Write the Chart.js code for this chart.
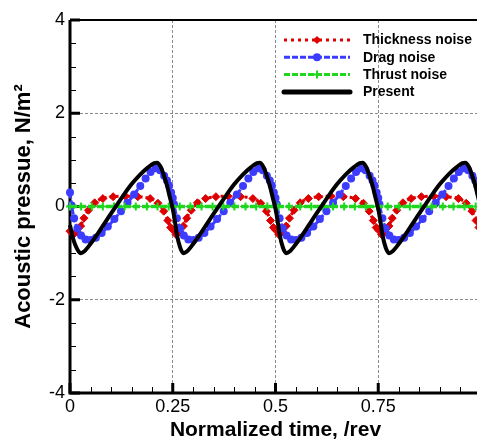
<!DOCTYPE html>
<html>
<head>
<meta charset="utf-8">
<script src="https://cdn.jsdelivr.net/npm/chart.js@4"></script>
<style>
  html, body { margin: 0; padding: 0; background: #fff; overflow: hidden; }
  #wrap { position: absolute; left: 0; top: 0; width: 495px; height: 441px; }
</style>
</head>
<body>
<div id="wrap"><canvas id="chart" width="495" height="441"></canvas></div>
<script>
// axis tick labels
const xTickLabels = ['0', '0.25', '0.5', '0.75'];
const yTickLabels = ['-4', '-2', '0', '2', '4'];

// Present (black solid)
const presentX = [
  0, 0.005, 0.01, 0.018, 0.026, 0.035, 0.05, 0.07, 0.09, 0.11, 0.13, 0.15, 0.17, 0.19, 0.205, 0.212, 0.22, 0.228, 0.236, 0.243,
  0.25, 0.255, 0.26, 0.268, 0.276, 0.285, 0.3, 0.32, 0.34, 0.36, 0.38, 0.4, 0.42, 0.44, 0.455, 0.462, 0.47, 0.478, 0.486, 0.493,
  0.5, 0.505, 0.51, 0.518, 0.526, 0.535, 0.55, 0.57, 0.59, 0.61, 0.63, 0.65, 0.67, 0.69, 0.705, 0.712, 0.72, 0.728, 0.736, 0.743,
  0.75, 0.755, 0.76, 0.768, 0.776, 0.785, 0.8, 0.82, 0.84, 0.86, 0.88, 0.9, 0.92, 0.94, 0.955, 0.962, 0.97, 0.978, 0.986, 0.993, 1.0
];
const presentY = [
  -0.4, -0.6, -0.76, -0.92, -1.0, -0.96, -0.8, -0.55, -0.28, -0.02, 0.24, 0.48, 0.68, 0.84, 0.93, 0.94, 0.86, 0.68, 0.45, 0.2,
  -0.05, -0.3, -0.6, -0.88, -1.0, -0.96, -0.8, -0.55, -0.28, -0.02, 0.24, 0.48, 0.68, 0.84, 0.93, 0.94, 0.86, 0.68, 0.45, 0.2,
  -0.05, -0.3, -0.6, -0.88, -1.0, -0.96, -0.8, -0.55, -0.28, -0.02, 0.24, 0.48, 0.68, 0.84, 0.93, 0.94, 0.86, 0.68, 0.45, 0.2,
  -0.05, -0.3, -0.6, -0.88, -1.0, -0.96, -0.8, -0.55, -0.28, -0.02, 0.24, 0.48, 0.68, 0.84, 0.93, 0.94, 0.86, 0.68, 0.45, 0.2, -0.05
];

// Drag noise (blue, circles)
const dragX = [
  0, 0.004, 0.01, 0.018, 0.027, 0.038, 0.05, 0.063, 0.077, 0.092, 0.108, 0.124, 0.14, 0.156, 0.171, 0.184, 0.196, 0.208, 0.219, 0.229, 0.236, 0.241, 0.246,
  0.25, 0.253, 0.26, 0.268, 0.277, 0.288, 0.3, 0.313, 0.327, 0.342, 0.358, 0.374, 0.39, 0.406, 0.421, 0.434, 0.446, 0.458, 0.469, 0.479, 0.486, 0.491, 0.496,
  0.5, 0.503, 0.51, 0.518, 0.527, 0.538, 0.55, 0.563, 0.577, 0.592, 0.608, 0.624, 0.64, 0.656, 0.671, 0.684, 0.696, 0.708, 0.719, 0.729, 0.736, 0.741, 0.746,
  0.75, 0.753, 0.76, 0.768, 0.777, 0.788, 0.8, 0.813, 0.827, 0.842, 0.858, 0.874, 0.89, 0.906, 0.921, 0.934, 0.946, 0.958, 0.969, 0.979, 0.986, 0.991, 0.996
];
const dragY = [
  0.3, 0.02, -0.25, -0.47, -0.62, -0.71, -0.72, -0.67, -0.57, -0.43, -0.27, -0.1, 0.08, 0.26, 0.44, 0.6, 0.74, 0.82, 0.78, 0.66, 0.56, 0.45, 0.3,
  0.18, 0.05, -0.25, -0.47, -0.62, -0.71, -0.72, -0.67, -0.57, -0.43, -0.27, -0.1, 0.08, 0.26, 0.44, 0.6, 0.74, 0.82, 0.78, 0.66, 0.56, 0.45, 0.3,
  0.18, 0.05, -0.25, -0.47, -0.62, -0.71, -0.72, -0.67, -0.57, -0.43, -0.27, -0.1, 0.08, 0.26, 0.44, 0.6, 0.74, 0.82, 0.78, 0.66, 0.56, 0.45, 0.3,
  0.18, 0.05, -0.25, -0.47, -0.62, -0.71, -0.72, -0.67, -0.57, -0.43, -0.27, -0.1, 0.08, 0.26, 0.44, 0.6, 0.74, 0.82, 0.78, 0.66, 0.56, 0.45, 0.3
];

// Thickness noise (red, diamonds)
const thickX = [
  0, 0.008, 0.018, 0.026, 0.034, 0.045, 0.06, 0.08, 0.105, 0.135, 0.165, 0.195, 0.214, 0.228, 0.238, 0.245,
  0.25, 0.258, 0.268, 0.276, 0.284, 0.295, 0.31, 0.33, 0.355, 0.385, 0.415, 0.445, 0.464, 0.478, 0.488, 0.495,
  0.5, 0.508, 0.518, 0.526, 0.534, 0.545, 0.56, 0.58, 0.605, 0.635, 0.665, 0.695, 0.714, 0.728, 0.738, 0.745,
  0.75, 0.758, 0.768, 0.776, 0.784, 0.795, 0.81, 0.83, 0.855, 0.885, 0.915, 0.945, 0.964, 0.978, 0.988, 0.995
];
const thickY = [
  -0.53, -0.6, -0.55, -0.42, -0.25, -0.08, 0.08, 0.17, 0.21, 0.22, 0.21, 0.17, 0.07, -0.1, -0.3, -0.45,
  -0.5, -0.6, -0.55, -0.42, -0.25, -0.08, 0.08, 0.17, 0.21, 0.22, 0.21, 0.17, 0.07, -0.1, -0.3, -0.45,
  -0.5, -0.6, -0.55, -0.42, -0.25, -0.08, 0.08, 0.17, 0.21, 0.22, 0.21, 0.17, 0.07, -0.1, -0.3, -0.45,
  -0.5, -0.6, -0.55, -0.42, -0.25, -0.08, 0.08, 0.17, 0.21, 0.22, 0.21, 0.17, 0.07, -0.1, -0.3, -0.45
];

// Thrust noise (green, crosses)
const thrustX = [
  0, 0.027, 0.053, 0.08, 0.107, 0.133, 0.16, 0.187, 0.213, 0.24, 0.267, 0.293, 0.32, 0.347, 0.373, 0.4, 0.427, 0.453, 0.48,
  0.507, 0.533, 0.56, 0.587, 0.613, 0.64, 0.667, 0.693, 0.72, 0.747, 0.773, 0.8, 0.827, 0.853, 0.88, 0.907, 0.933, 0.96, 0.987
];
const thrustY = [
  0, 0, 0, 0, 0, 0, 0, 0, 0, 0, 0, 0, 0, 0, 0, 0, 0, 0, 0,
  0, 0, 0, 0, 0, 0, 0, 0, 0, 0, 0, 0, 0, 0, 0, 0, 0, 0, 0
];

const FONT = '"Liberation Sans", Arial, Helvetica, sans-serif';
const pts = (xs, ys) => xs.map((x, i) => ({ x, y: ys[i] }));

// frame + inward ticks, Tecplot style
const framePlugin = {
  id: 'frame',
  beforeDatasetsDraw(chart) {
    const { ctx, chartArea: a, scales: { x, y } } = chart;
    ctx.save();
    ctx.strokeStyle = '#000';
    // minor ticks
    ctx.lineWidth = 1;
    ctx.beginPath();
    for (let v = 0.05; v < 1; v += 0.05) {
      const px = Math.round(x.getPixelForValue(v)) + 0.5;
      ctx.moveTo(px, a.bottom); ctx.lineTo(px, a.bottom - 6);
    }
    for (let v = -3.5; v < 4; v += 0.5) {
      const py = Math.round(y.getPixelForValue(v)) + 0.5;
      ctx.moveTo(a.left, py); ctx.lineTo(a.left + 6, py);
    }
    ctx.stroke();
    // major ticks
    ctx.lineWidth = 3;
    ctx.beginPath();
    x.ticks.forEach(t => {
      const px = x.getPixelForValue(t.value);
      ctx.moveTo(px, a.bottom); ctx.lineTo(px, a.bottom - 10);
    });
    y.ticks.forEach(t => {
      const py = y.getPixelForValue(t.value);
      ctx.moveTo(a.left, py); ctx.lineTo(a.left + 10, py);
    });
    ctx.stroke();
    // axes
    ctx.lineWidth = 3;
    ctx.beginPath();
    ctx.moveTo(a.left, a.top); ctx.lineTo(a.left, a.bottom + 1.5);
    ctx.moveTo(a.left - 1.5, a.bottom); ctx.lineTo(a.right, a.bottom);
    ctx.stroke();
    ctx.lineWidth = 2;
    ctx.beginPath();
    ctx.moveTo(a.left, a.top); ctx.lineTo(a.right, a.top);
    ctx.lineTo(a.right, a.bottom);
    ctx.stroke();
    ctx.restore();
  }
};

// legend with line samples, drawn top right inside the plot
const legendPlugin = {
  id: 'lineLegend',
  afterDraw(chart) {
    const ctx = chart.ctx;
    ctx.save();
    chart.data.datasets.forEach((ds, row) => {
      const yy = 40 + row * 17.3;
      const mx = 317;
      ctx.setLineDash(ds.legendDash);
      ctx.lineWidth = ds.legendWidth;
      ctx.lineCap = ds.legendDash.length ? 'butt' : 'round';
      ctx.strokeStyle = ds.borderColor;
      ctx.beginPath();
      ctx.moveTo(284, yy); ctx.lineTo(350, yy);
      ctx.stroke();
      ctx.setLineDash([]);
      if (ds.pointRadius > 0) {
        const r = ds.pointRadius;
        ctx.fillStyle = ds.pointBackgroundColor;
        ctx.strokeStyle = ds.pointBorderColor;
        ctx.lineWidth = ds.pointBorderWidth;
        ctx.lineCap = 'butt';
        ctx.beginPath();
        if (ds.pointStyle === 'circle') {
          ctx.arc(mx, yy, r, 0, Math.PI * 2);
          ctx.fill();
        } else if (ds.pointStyle === 'rectRot') {
          ctx.moveTo(mx, yy - r); ctx.lineTo(mx + r, yy); ctx.lineTo(mx, yy + r); ctx.lineTo(mx - r, yy);
          ctx.closePath(); ctx.fill();
        } else if (ds.pointStyle === 'cross') {
          ctx.moveTo(mx - r, yy); ctx.lineTo(mx + r, yy);
          ctx.moveTo(mx, yy - r); ctx.lineTo(mx, yy + r);
          ctx.stroke();
        }
      }
      ctx.fillStyle = '#000';
      ctx.font = 'bold 14px ' + FONT;
      ctx.textBaseline = 'middle';
      ctx.textAlign = 'left';
      ctx.fillText(ds.label, 363, yy + 0.5);
    });
    ctx.restore();
  }
};

new Chart(document.getElementById('chart'), {
  type: 'line',
  data: {
    datasets: [
      {
        label: 'Thickness noise',
        data: pts(thickX, thickY),
        borderColor: 'rgb(222, 0, 0)',
        borderWidth: 3,
        borderDash: [3, 3],
        pointStyle: 'rectRot',
        pointRadius: 4,
        pointBorderWidth: 1,
        pointBackgroundColor: 'rgb(222, 0, 0)',
        pointBorderColor: 'rgb(222, 0, 0)',
        legendDash: [3, 4],
        legendWidth: 3,
        cubicInterpolationMode: 'monotone',
        order: 4
      },
      {
        label: 'Drag noise',
        data: pts(dragX, dragY),
        borderColor: 'rgb(60, 60, 255)',
        borderWidth: 3,
        borderDash: [6, 2],
        pointStyle: 'circle',
        pointRadius: 4,
        pointBorderWidth: 0,
        pointBackgroundColor: 'rgb(60, 60, 255)',
        pointBorderColor: 'rgb(60, 60, 255)',
        legendDash: [6, 2],
        legendWidth: 3,
        cubicInterpolationMode: 'monotone',
        order: 3
      },
      {
        label: 'Thrust noise',
        data: pts(thrustX, thrustY),
        borderColor: 'rgb(30, 215, 30)',
        borderWidth: 3.5,
        borderDash: [7, 2],
        pointStyle: 'cross',
        pointRadius: 4,
        pointBorderWidth: 2,
        pointBackgroundColor: 'rgb(30, 215, 30)',
        pointBorderColor: 'rgb(30, 215, 30)',
        legendDash: [6, 2],
        legendWidth: 3,
        order: 2
      },
      {
        label: 'Present',
        data: pts(presentX, presentY),
        borderColor: '#000',
        borderWidth: 4,
        pointRadius: 0,
        legendDash: [],
        legendWidth: 5,
        cubicInterpolationMode: 'monotone',
        order: 1
      }
    ]
  },
  options: {
    responsive: false,
    animation: false,
    devicePixelRatio: 1,
    layout: { padding: { top: 20, right: 14, left: 0, bottom: 0 } },
    plugins: { legend: { display: false }, tooltip: { enabled: false } },
    elements: { line: { borderCapStyle: 'butt', borderJoinStyle: 'round' } },
    datasets: { line: { clip: false } },
    scales: {
      x: {
        type: 'linear',
        min: 0, max: 1,
        afterFit: s => { s.height = 48; },
        ticks: {
          stepSize: 0.25,
          padding: 3,
          color: '#000',
          maxRotation: 0,
          font: { family: FONT, size: 18 },
          callback: (v, i) => xTickLabels[i] ?? ''
        },
        grid: { color: '#8a8a8a', lineWidth: 1, drawTicks: false },
        border: { display: false, dash: [3, 2] },
        title: {
          display: true,
          text: 'Normalized time, /rev',
          color: '#000',
          padding: 0,
          font: { family: FONT, size: 21, weight: 'bold', lineHeight: 1 }
        }
      },
      y: {
        type: 'linear',
        min: -4, max: 4,
        afterFit: s => { s.width = 70; },
        ticks: {
          stepSize: 2,
          padding: 5,
          color: '#000',
          font: { family: FONT, size: 18 },
          callback: (v, i) => yTickLabels[i] ?? ''
        },
        grid: { color: '#8a8a8a', lineWidth: 1, drawTicks: false },
        border: { display: false, dash: [3, 2] },
        title: {
          display: true,
          text: 'Acoustic pressue, N/m\u00B2',
          color: '#000',
          padding: { top: 13, bottom: 0 },
          font: { family: FONT, size: 22, weight: 'bold', lineHeight: 1 }
        }
      }
    }
  },
  plugins: [framePlugin, legendPlugin]
});
</script>
</body>
</html>
